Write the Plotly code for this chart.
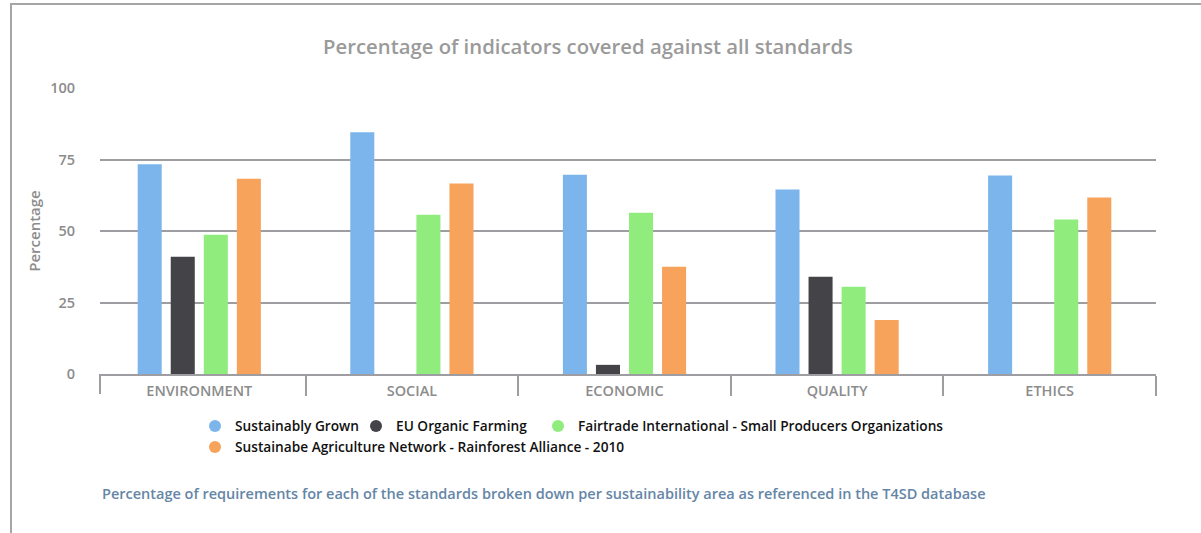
import plotly.graph_objects as go

# ---- data ----
categories = ["ENVIRONMENT", "SOCIAL", "ECONOMIC", "QUALITY", "ETHICS"]
series_names = [
    "Sustainably Grown",
    "EU Organic Farming",
    "Fairtrade International - Small Producers Organizations",
    "Sustainabe Agriculture Network - Rainforest Alliance - 2010",
]
sustainably_grown = [73.3, 84.5, 69.7, 64.5, 69.4]
eu_organic_farming = [41.0, None, 3.2, 34.0, None]
fairtrade_spo = [48.7, 55.7, 56.4, 30.5, 54.0]
san_rainforest = [68.3, 66.6, 37.5, 18.9, 61.7]
y_tick_values = [0, 25, 50, 75, 100]

title_text = "Percentage of indicators covered against all standards"
y_title = "Percentage"
caption_text = ("Percentage of requirements for each of the standards broken down "
                "per sustainability area as referenced in the T4SD database")

# ---- style ----
colors = ["#7cb5ec", "#434348", "#90ed7d", "#f7a35c"]
FONT = "Open Sans"
GRID = "#9e9ea2"
W, H = 1201, 533
ML, MR, MT, MB = 100, 45, 88, 159
PW = W - ML - MR
PH = H - MT - MB


def px_x(px):
    return (px - ML) / PW


def px_y(py):
    return (H - MB - py) / PH


fig = go.Figure()
for name, vals, col in zip(series_names,
                           [sustainably_grown, eu_organic_farming, fairtrade_spo, san_rainforest],
                           colors):
    fig.add_trace(go.Bar(x=categories, y=vals, name=name, marker_color=col,
                         marker_line_width=0, showlegend=False))

# legend entries with circular symbols
legend_widths = [116, 137, 380, 400]
legend_ids = ["legend", "legend", "legend", "legend2"]
for name, col, lw, lg in zip(series_names, colors, legend_widths, legend_ids):
    fig.add_trace(go.Scatter(x=[None], y=[None], mode="markers", name=name,
                             marker=dict(color=col, size=12, symbol="circle"),
                             legend=lg, legendwidth=lw, showlegend=True))

legend_font = dict(family=FONT, size=13.7, color="#111111", weight=600)

fig.update_layout(
    width=W, height=H,
    margin=dict(l=ML, r=MR, t=MT, b=MB, pad=0, autoexpand=False),
    paper_bgcolor="white", plot_bgcolor="white",
    barmode="group", bargap=0.378, bargroupgap=0.273,
    title=dict(text=title_text, x=588 / W, xref="container", xanchor="center",
               y=1 - 47 / H, yref="container", yanchor="middle",
               font=dict(family=FONT, size=20.3, color="#9a9a9a", weight=600)),
    font=dict(family=FONT),
    xaxis=dict(range=[-0.467, 4.5], type="category", showgrid=False,
               automargin=False,
               tickson="boundaries", ticks="outside", ticklen=20, tickwidth=2,
               tickcolor=GRID, showline=True, linecolor=GRID, linewidth=2,
               ticklabelstandoff=3,
               tickfont=dict(family=FONT, size=14.5, color="#8c8c8c", weight=600),
               fixedrange=True),
    yaxis=dict(range=[0, 100], tickvals=y_tick_values, showgrid=True,
               automargin=False,
               gridcolor=GRID, gridwidth=2, zeroline=False, showline=False,
               ticks="", ticklabelstandoff=24,
               tickfont=dict(family=FONT, size=14.5, color="#8c8c8c", weight=600),
               title=dict(text=y_title, standoff=5,
                          font=dict(family=FONT, size=15, color="#8c8c8c", weight=600)),
               fixedrange=True),
    legend=dict(orientation="h", x=195 / W, xref="container", xanchor="left",
                y=1 - 426 / H, yref="container", yanchor="middle",
                font=legend_font,
                bgcolor="rgba(0,0,0,0)", itemclick=False, itemdoubleclick=False),
    legend2=dict(orientation="h", x=195 / W, xref="container", xanchor="left",
                 y=1 - 447 / H, yref="container", yanchor="middle",
                 font=legend_font,
                 bgcolor="rgba(0,0,0,0)", itemclick=False, itemdoubleclick=False),
    annotations=[dict(text=caption_text, xref="paper", yref="paper",
                      x=0, y=px_y(493), xanchor="left", yanchor="middle",
                      showarrow=False,
                      font=dict(family=FONT, size=14.5, color="#6586a6", weight=600))],
    shapes=[
        # outer frame (top and left edges)
        dict(type="path", xref="paper", yref="paper",
             path=f"M {px_x(1201)},{px_y(4)} L {px_x(11)},{px_y(4)} L {px_x(11)},{px_y(540)}",
             line=dict(color="#a6a6a6", width=2)),
        # left category divider
        dict(type="line", xref="paper", yref="paper", x0=0, x1=0,
             y0=px_y(374), y1=px_y(394), line=dict(color=GRID, width=2)),
    ],
)

fig.write_html(
    "out.html",
    config={"displayModeBar": False},
    post_script="document.body.style.margin='0px';document.body.style.overflow='hidden';",
)
